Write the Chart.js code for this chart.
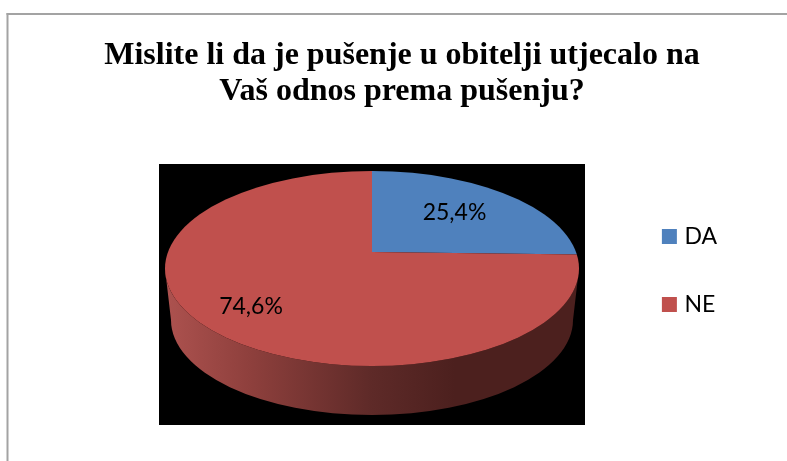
<!DOCTYPE html>
<html><head><meta charset="utf-8">
<style>html,body{margin:0;padding:0;background:#fff;overflow:hidden}#w{position:absolute;left:0;top:0;width:787px;height:461px}</style>
<script src="https://cdn.jsdelivr.net/npm/chart.js@4/dist/chart.umd.min.js"></script>
</head><body><div id="w"><canvas id="c" width="787" height="461"></canvas></div>
<script>
const titleLines = ['Mislite li da je pušenje u obitelji utjecalo na', 'Vaš odnos prema pušenju?'];
const categories = ['DA', 'NE'];
const shares = [25.4, 74.6];
const sliceColors = ['#4F81BD', '#C0504D'];

const FONT = 'Lato, "Open Sans", sans-serif';
const plate = {l:159, t:164, r:585, b:425};
const face = {cx:372, cy:268.5, rx:207, ry:97.5};
const base = {cx:372, cy:320, rx:201, ry:95};
const apex = {x:372, y:252};
const reach = 270, squash = 0.47;
const labelAt = [{x:454.5, y:213}, {x:251, y:306.5}];

const scene = {
  id:'scene',
  beforeDraw(chart){
    const c = chart.ctx;
    c.save();
    c.fillStyle = '#fff'; c.fillRect(0,0,chart.width,chart.height);
    c.fillStyle = '#a3a3a3';
    c.fillRect(6.5,13,chart.width,2); c.fillRect(6.5,13,2,chart.height);
    c.fillStyle = '#000'; c.fillRect(plate.l,plate.t,plate.r-plate.l,plate.b-plate.t);
    const g = c.createLinearGradient(face.cx-face.rx,0,face.cx+face.rx,0);
    g.addColorStop(0,'#AD524F'); g.addColorStop(0.2,'#8F403D'); g.addColorStop(0.5,'#5E2A28');
    g.addColorStop(0.7,'#4C201E'); g.addColorStop(1,'#4C201E');
    c.fillStyle = g;
    c.beginPath();
    c.ellipse(face.cx,face.cy,face.rx,face.ry,0,0,Math.PI,false);
    c.ellipse(base.cx,base.cy,base.rx,base.ry,0,Math.PI,0,true);
    c.closePath(); c.fill();
    c.restore();
  },
  beforeDatasetDraw(chart){
    const c = chart.ctx, a = chart.getDatasetMeta(0).data[0];
    const s = reach / a.outerRadius;
    c.save();
    c.beginPath(); c.ellipse(face.cx,face.cy,face.rx,face.ry,0,0,Math.PI*2); c.clip();
    c.translate(apex.x,apex.y); c.scale(s,s*squash); c.translate(-a.x,-a.y);
  },
  afterDatasetDraw(chart){ chart.ctx.restore(); },
  afterDatasetsDraw(chart){
    const c = chart.ctx;
    c.save();
    c.fillStyle = '#000'; c.font = '23px '+FONT; c.textAlign='center'; c.textBaseline='middle';
    shares.forEach((v,i)=> c.fillText(v.toFixed(1).replace('.',',')+'%', labelAt[i].x, labelAt[i].y));
    c.restore();
  }
};

new Chart(document.getElementById('c'),{
  type:'pie',
  data:{labels:categories,datasets:[{data:shares,backgroundColor:sliceColors,borderWidth:0,clip:false}]},
  options:{
    responsive:false,animation:false,
    layout:{padding:{left:77,right:60,top:38,bottom:35}},
    plugins:{
      title:{display:true,text:titleLines,color:'#000',font:{family:'"Liberation Serif"',size:32,weight:'bold',lineHeight:1.125},padding:{top:0,bottom:5}},
      legend:{position:'right',fullSize:false,labels:{boxWidth:7,boxHeight:7,padding:45,color:'#000',font:{family:FONT,size:23},
        generateLabels:()=>categories.map((t,i)=>({text:t,fillStyle:sliceColors[i],strokeStyle:sliceColors[i],lineWidth:8,index:i,hidden:false}))}},
      tooltip:{enabled:false}
    }
  },
  plugins:[scene]
});
</script></body></html>
